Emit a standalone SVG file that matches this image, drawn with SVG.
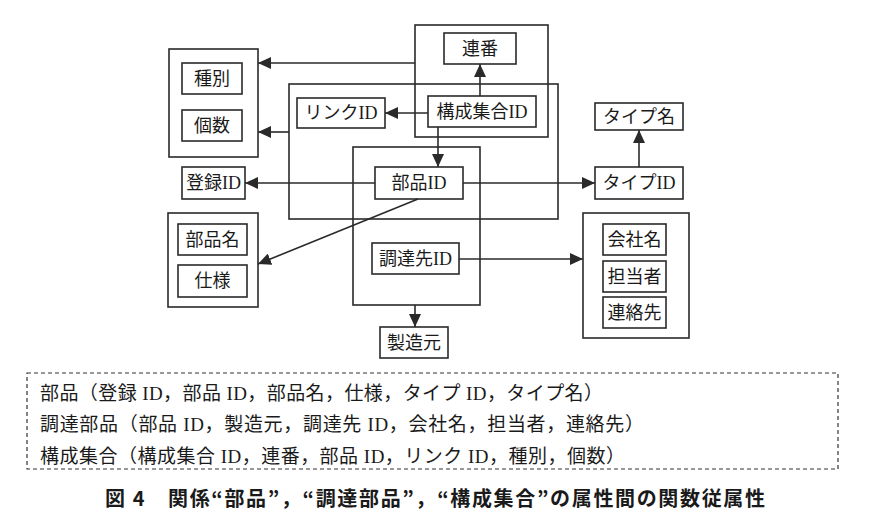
<svg xmlns="http://www.w3.org/2000/svg" width="871" height="528" viewBox="0 0 871 528">
  <defs>
    <marker id="ah" markerUnits="userSpaceOnUse" markerWidth="13" markerHeight="12" viewBox="0 0 13 12" refX="13" refY="6" orient="auto">
      <path d="M0,0 L13,6 L0,12 z" fill="#2a2a2a"/>
    </marker>
    <style>
      .box { fill: #fff; stroke: #2a2a2a; stroke-width: 1.6; }
      .grp { fill: none; stroke: #2a2a2a; stroke-width: 1.6; }
      .lbl { font-family: "Liberation Serif", "Noto Sans CJK JP", serif; font-size: 18px; fill: #1a1a1a; text-anchor: middle; dominant-baseline: central; }
      .body { font-family: "Liberation Serif", "Noto Sans CJK JP", serif; font-size: 19px; fill: #1a1a1a; dominant-baseline: central; }
      .cap { font-family: "Noto Sans CJK JP", "Liberation Sans", sans-serif; font-size: 20px; font-weight: bold; fill: #1a1a1a; dominant-baseline: central; }
      .conn line { stroke: #2a2a2a; stroke-width: 1.6; fill: none; marker-end: url(#ah); }
    </style>
  </defs>
  <rect x="0" y="0" width="871" height="528" fill="#fff"/>

  <g id="grp-renban"><rect class="grp" x="415" y="25" width="133" height="112"/></g>
  <g id="grp-buhin"><rect class="grp" x="289" y="84" width="269" height="135"/></g>
  <g id="grp-chotatsu"><rect class="grp" x="353" y="147" width="127" height="158"/></g>
  <g id="grp-shubetsu"><rect class="grp" x="169" y="49" width="89" height="108"/></g>
  <g id="grp-buhinmei"><rect class="grp" x="168" y="213" width="90" height="94"/></g>
  <g id="grp-kaisha"><rect class="grp" x="583" y="213" width="106" height="125"/></g>

  <g id="n-renban"><rect class="box" x="444" y="33" width="72" height="31"/><text class="lbl" x="480" y="48.5">連番</text></g>
  <g id="n-koseiid"><rect class="box" x="428" y="96" width="108" height="31"/><text class="lbl" x="482" y="111.5">構成集合ID</text></g>
  <g id="n-buhinid"><rect class="box" x="375" y="167" width="88" height="32"/><text class="lbl" x="419" y="183">部品ID</text></g>
  <g id="n-torokuid"><rect class="box" x="182" y="167" width="63" height="32"/><text class="lbl" x="213.5" y="183">登録ID</text></g>
  <g id="n-buhinmei"><rect class="box" x="178" y="224" width="69" height="31"/><text class="lbl" x="212.5" y="239.5">部品名</text></g>
  <g id="n-shiyo"><rect class="box" x="178" y="265" width="69" height="32"/><text class="lbl" x="212.5" y="281">仕様</text></g>
  <g id="n-shubetsu"><rect class="box" x="182" y="63" width="60" height="31"/><text class="lbl" x="212" y="78.5">種別</text></g>
  <g id="n-kosu"><rect class="box" x="182" y="110" width="60" height="31"/><text class="lbl" x="212" y="125.5">個数</text></g>
  <g id="n-linkid"><rect class="box" x="297" y="98" width="88" height="30"/><text class="lbl" x="341" y="113">リンクID</text></g>
  <g id="n-typemei"><rect class="box" x="595" y="103" width="88" height="27"/><text class="lbl" x="639" y="116.5">タイプ名</text></g>
  <g id="n-typeid"><rect class="box" x="595" y="167" width="88" height="32"/><text class="lbl" x="639" y="183">タイプID</text></g>
  <g id="n-chotatsusakiid"><rect class="box" x="372" y="243" width="87" height="31"/><text class="lbl" x="415.5" y="258.5">調達先ID</text></g>
  <g id="n-seizomoto"><rect class="box" x="380" y="327" width="68" height="31"/><text class="lbl" x="414" y="342.5">製造元</text></g>
  <g id="n-kaishamei"><rect class="box" x="603" y="224" width="63" height="31"/><text class="lbl" x="634.5" y="239.5">会社名</text></g>
  <g id="n-tantosha"><rect class="box" x="603" y="261" width="63" height="31"/><text class="lbl" x="634.5" y="276.5">担当者</text></g>
  <g id="n-renrakusaki"><rect class="box" x="603" y="297" width="63" height="31"/><text class="lbl" x="634.5" y="312.5">連絡先</text></g>

  <g id="connectors" class="conn">
    <line x1="480" y1="96" x2="480" y2="64"/>
    <line x1="415" y1="63" x2="258" y2="63"/>
    <line x1="289" y1="132" x2="258" y2="132"/>
    <line x1="428" y1="113" x2="385" y2="113"/>
    <line x1="438" y1="127" x2="438" y2="167"/>
    <line x1="375" y1="183" x2="245" y2="183"/>
    <line x1="463" y1="183" x2="595" y2="183"/>
    <line x1="639" y1="167" x2="639" y2="130"/>
    <line x1="418" y1="199" x2="258" y2="264"/>
    <line x1="459" y1="259" x2="583" y2="259"/>
    <line x1="415" y1="305" x2="415" y2="327"/>
  </g>

  <g id="relations">
    <rect x="27" y="373" width="811" height="96" fill="none" stroke="#333" stroke-width="1.2" stroke-dasharray="4,3"/>
    <text class="body" x="40" y="393" textLength="563" lengthAdjust="spacing">部品（登録 ID，部品 ID，部品名，仕様，タイプ ID，タイプ名）</text>
    <text class="body" x="40" y="424" textLength="604" lengthAdjust="spacing">調達部品（部品 ID，製造元，調達先 ID，会社名，担当者，連絡先）</text>
    <text class="body" x="40" y="456" textLength="585" lengthAdjust="spacing">構成集合（構成集合 ID，連番，部品 ID，リンク ID，種別，個数）</text>
  </g>
  <text class="cap" x="105" y="497" textLength="660" lengthAdjust="spacing">図 4　関係“部品”，“調達部品”，“構成集合”の属性間の関数従属性</text>
</svg>
